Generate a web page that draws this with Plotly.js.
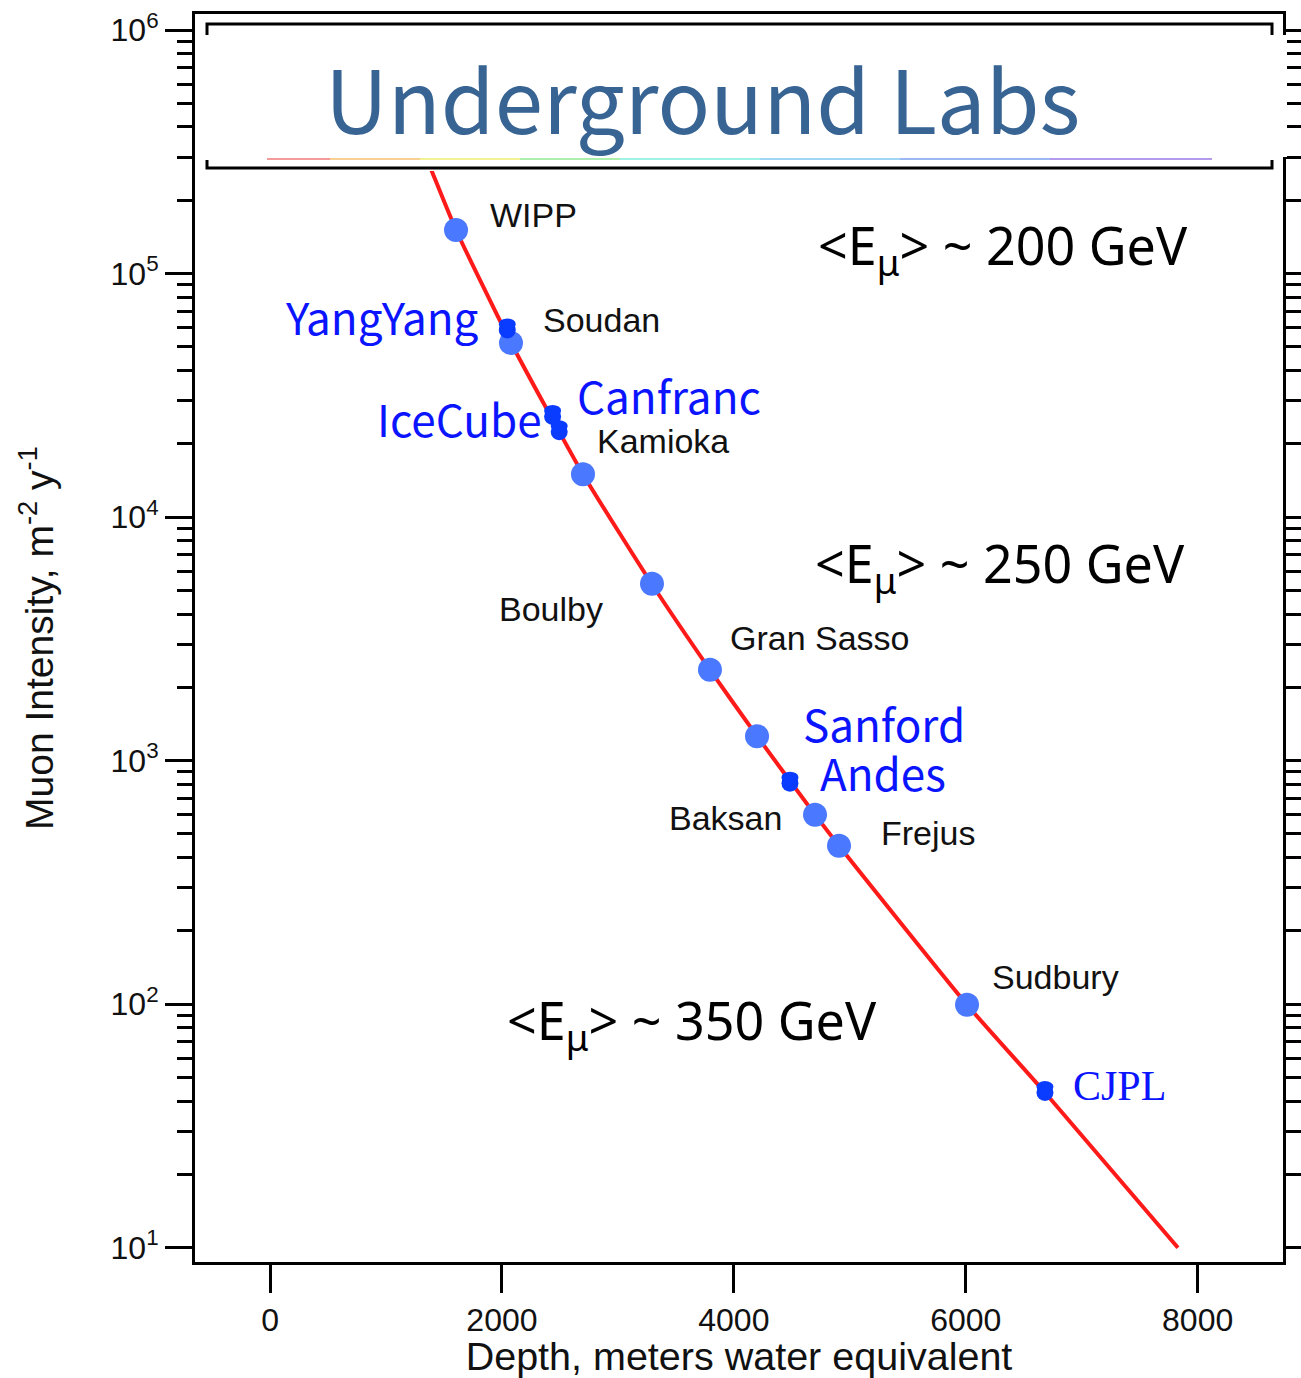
<!DOCTYPE html>
<html>
<head>
<meta charset="utf-8">
<script src="https://cdn.plot.ly/plotly-3.0.1.min.js"></script>
<style>html,body{margin:0;padding:0;background:#fff;}#chart{width:1301px;height:1378px;}</style>
</head>
<body>
<div id="chart"></div>
<script>
// ---- data ----
const curveDepth     = [1290, 1400, 1604, 2078, 2699, 3294, 3794, 4200, 4700, 4907, 6011, 6683, 7830];
const curveIntensity = [3.5e5, 2.6e5, 1.51e5, 5.2e4, 1.5e4, 5.3e3, 2.36e3, 1.26e3, 600, 447, 99.4, 43.4, 10];

const labNames      = ["WIPP", "Soudan", "Kamioka", "Boulby", "Gran Sasso", "Sanford", "Baksan", "Frejus", "Sudbury"];
const labDepth      = [1604, 2078, 2699, 3294, 3794, 4200, 4700, 4907, 6011];
const labIntensity  = [1.51e5, 5.19e4, 1.50e4, 5.32e3, 2.36e3, 1.26e3, 599, 447, 99.4];

const newNames      = ["YangYang", "IceCube", "Canfranc", "Andes", "CJPL"];
const newDepth      = [2046, 2437, 2494, 4484, 6683];
const newIntensity  = [5.87e4, 2.59e4, 2.24e4, 808, 43.4];

const xTicks = [0, 2000, 4000, 6000, 8000];
const yTickVals = [1e1, 1e2, 1e3, 1e4, 1e5, 1e6];
const yTickText = ["10<sup>1</sup>", "10<sup>2</sup>", "10<sup>3</sup>", "10<sup>4</sup>", "10<sup>5</sup>", "10<sup>6</sup>"];
const minorDigits = [2, 3, 4, 5, 6, 7, 8, 9];
const minorDecades = [1e1, 1e2, 1e3, 1e4, 1e5];

const energyTexts = ["&lt;E<sub>μ</sub>&gt; ~ 200 GeV", "&lt;E<sub>μ</sub>&gt; ~ 250 GeV", "&lt;E<sub>μ</sub>&gt; ~ 350 GeV"];

// ---- layout helpers (pixel -> paper) ----
const L = 195, R = 1283, T = 14, B = 1262;
const px = x => (x - L) / (R - L);
const py = y => (B - y) / (B - T);

const minorVals = [];
minorDecades.forEach(d => minorDigits.forEach(k => minorVals.push(k * d)));

const SANS = "Liberation Sans, Arial, Helvetica, sans-serif";
const CJK = "Noto Sans CJK JP, Noto Sans, sans-serif";

const traces = [
  {x: curveDepth, y: curveIntensity, mode: "lines", type: "scatter",
   line: {color: "#ff1a1a", width: 4, shape: "spline", smoothing: 0.5}, hoverinfo: "skip", showlegend: false},
  {x: labDepth, y: labIntensity, text: labNames, mode: "markers", type: "scatter",
   marker: {color: "#4a78ff", size: 24, line: {width: 0}}, showlegend: false},
  {x: newDepth, y: newIntensity, text: newNames, mode: "markers", type: "scatter",
   marker: {color: "#0a3cff", size: 17, line: {width: 0}}, showlegend: false}
];

// label placements (pixel positions of text)
const labLabelPos = {
  "WIPP": [488, 215], "Soudan": [541, 320], "Kamioka": [595, 441], "Boulby": [497, 609],
  "Gran Sasso": [728, 638], "Sanford": null, "Baksan": [667, 818], "Frejus": [879, 833], "Sudbury": [990, 977]
};
const newLabelPos = {
  "YangYang": [283, 316], "IceCube": [375, 418], "Canfranc": [575, 395], "Andes": [818, 772], "Sanford": [801, 723]
};
const energyPos = [[816, 248], [813, 566], [505, 1023]];

const annotations = [];
labNames.forEach(n => {
  const p = labLabelPos[n];
  if (!p) return;
  annotations.push({xref: "paper", yref: "paper", x: px(p[0]), y: py(p[1]), xanchor: "left", yanchor: "middle",
    text: n, showarrow: false, font: {family: SANS, size: 34, color: "#111"}});
});
Object.keys(newLabelPos).forEach(n => {
  const p = newLabelPos[n];
  annotations.push({xref: "paper", yref: "paper", x: px(p[0]), y: py(p[1]), xanchor: "left", yanchor: "middle",
    text: n, showarrow: false, font: {family: CJK, size: 44, color: "#0a14ff"}});
});
annotations.push({xref: "paper", yref: "paper", x: px(1071), y: py(1086), xanchor: "left", yanchor: "middle",
  text: "CJPL", showarrow: false, font: {family: "Liberation Serif, Times New Roman, serif", size: 42, color: "#0a14ff"}});
energyTexts.forEach((t, i) => {
  annotations.push({xref: "paper", yref: "paper", x: px(energyPos[i][0]), y: py(energyPos[i][1]), xanchor: "left", yanchor: "middle",
    text: t, showarrow: false, font: {family: "Noto Sans, sans-serif", size: 52, color: "#000"}});
});
annotations.push({xref: "paper", yref: "paper", x: px(702), y: py(96), xanchor: "center", yanchor: "middle",
  text: "Underground Labs", showarrow: false, font: {family: CJK, size: 87, color: "#386494"}});

const shapes = [];
// pixel-sized ellipses for the new labs, anchored at the data points
newDepth.forEach((d, i) => {
  shapes.push({type: "circle", xref: "x", yref: "y", xsizemode: "pixel", ysizemode: "pixel",
    xanchor: d, yanchor: newIntensity[i], x0: -8.5, x1: 8.5, y0: -11.5, y1: 11.5,
    fillcolor: "#0a3cff", line: {width: 0}, layer: "above"});
});
// title box (pasted white panel)
shapes.push({type: "rect", xref: "paper", yref: "paper", x0: px(203), x1: px(1287), y0: py(157), y1: py(35),
  line: {width: 0}, fillcolor: "#fff", layer: "above"});
shapes.push({type: "rect", xref: "paper", yref: "paper", x0: px(207), x1: px(1272), y0: py(171), y1: py(24),
  line: {width: 0}, fillcolor: "#fff", layer: "above"});
shapes.push({type: "path", xref: "paper", yref: "paper",
  path: `M${px(207)},${py(35)} L${px(207)},${py(24)} L${px(1272)},${py(24)} L${px(1272)},${py(35)}`,
  line: {color: "#000", width: 3}, layer: "above"});
shapes.push({type: "path", xref: "paper", yref: "paper",
  path: `M${px(207)},${py(160)} L${px(207)},${py(168)} L${px(1272)},${py(168)} L${px(1272)},${py(160)}`,
  line: {color: "#000", width: 3}, layer: "above"});
const rainbow = [[267, 330, "#f07878"], [330, 420, "#f6c070"], [420, 520, "#eeee70"], [520, 620, "#90e890"],
  [620, 760, "#80eedd"], [760, 900, "#80c8f0"], [900, 1050, "#7aa0ee"], [1050, 1212, "#9a78e6"]];
rainbow.forEach(s => shapes.push({type: "line", xref: "paper", yref: "paper", x0: px(s[0]), x1: px(s[1]),
  y0: py(159), y1: py(159), line: {color: s[2], width: 1.5}, layer: "above"}));

const layout = {
  width: 1301, height: 1378,
  margin: {l: L, r: 1301 - R, t: T, b: 1378 - B, pad: 0},
  paper_bgcolor: "#fff", plot_bgcolor: "#fff",
  showlegend: false,
  xaxis: {
    range: [-647, 8736], tickvals: xTicks, ticktext: xTicks.map(String),
    ticks: "outside", ticklen: 28, tickwidth: 3, tickcolor: "#000",
    showline: true, linewidth: 3, linecolor: "#000", mirror: true,
    showgrid: false, zeroline: false, automargin: false,
    tickfont: {family: SANS, size: 32, color: "#111"},
    title: {text: "Depth, meters water equivalent", font: {family: SANS, size: 39.5, color: "#111"}, standoff: 8}
  },
  yaxis: {
    type: "log", range: [0.9413, 6.0657], tickvals: yTickVals, ticktext: yTickText,
    ticks: "outside", ticklen: 27, tickwidth: 3, tickcolor: "#000",
    minor: {tickvals: minorVals, ticks: "outside", ticklen: 15, tickwidth: 3, tickcolor: "#000", showgrid: false},
    showline: true, linewidth: 3, linecolor: "#000", mirror: "ticks",
    showgrid: false, zeroline: false, automargin: false,
    tickfont: {family: SANS, size: 32, color: "#111"},
    title: {text: "Muon Intensity, m<sup>-2</sup> y<sup>-1</sup>", font: {family: SANS, size: 39, color: "#111"}, standoff: 45}
  },
  annotations: annotations,
  shapes: shapes
};

Plotly.newPlot("chart", traces, layout, {staticPlot: true, displayModeBar: false});
</script>
</body>
</html>
